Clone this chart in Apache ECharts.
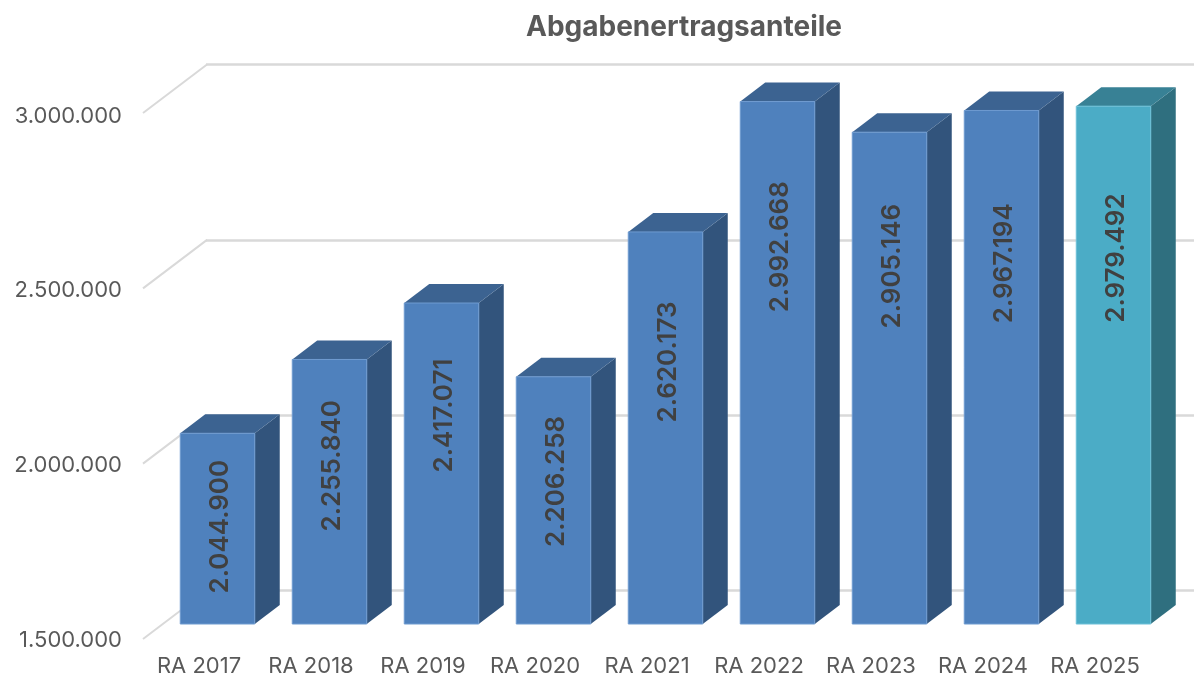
<!DOCTYPE html>
<html>
<head>
<meta charset="utf-8">
<title>Abgabenertragsanteile</title>
<script src="https://cdn.jsdelivr.net/npm/echarts@6/dist/echarts.min.js"></script>
<style>
html,body{margin:0;padding:0;background:#fff;}
#chart{width:1194px;height:677px;}
</style>
</head>
<body>
<div id="chart"></div>
<script>
var categories = ['RA 2017','RA 2018','RA 2019','RA 2020','RA 2021','RA 2022','RA 2023','RA 2024','RA 2025'];
var values = [2044900,2255840,2417071,2206258,2620173,2992668,2905146,2967194,2979492];
var axisTicks = [1500000,2000000,2500000,3000000];

// die Labels sitzen im Original nicht mittig im Balken, Versatz nach oben in px
var labelShift = [2,26,48,19,66,116,112,104,107];

var axisMin = 1500000, axisMax = 3000000, axisStep = 500000;
var depthX = 25, depthY = 19;      // Balkentiefe
var wallX = 64, wallY = 48.5;      // Tiefe der Seitenwand
var barRatio = 74.5 / 112;
var blue = {front:'#4f81bd', top:'#3c6391', side:'#32547c', edge:'#6f9bd0'};
var teal = {front:'#4bacc6', top:'#388195', side:'#2f6f7f', edge:'#6cc0d8'};
var highlight = 8;

var fontName = 'Inter';

function formatDe(v){
	return String(v).replace(/\B(?=(\d{3})+(?!\d))/g, '.');
}

//3D Balken
function renderBar(params, api){
	var idx = api.value(0);
	var topPt = api.coord([idx, api.value(1)]);
	var basePt = api.coord([idx, axisMin]);
	var w = api.size([1,0])[0] * barRatio;
	var x0 = topPt[0] - w/2, x1 = topPt[0] + w/2;
	var y0 = topPt[1], y1 = basePt[1];
	var c = idx == highlight ? teal : blue;
	return {
		type:'group',
		children:[
			{type:'polygon', shape:{points:[[x1,y0],[x1+depthX,y0-depthY],[x1+depthX,y1-depthY],[x1,y1]]},
				style:{fill:c.side}},
			{type:'polygon', shape:{points:[[x0,y0],[x0+depthX,y0-depthY],[x1+depthX,y0-depthY],[x1,y0]]},
				style:{fill:c.top}},
			{type:'rect', shape:{x:x0,y:y0,width:w,height:y1-y0},
				style:{fill:c.front, stroke:c.edge, lineWidth:1}},
			{type:'text', x:topPt[0]+3, y:(y0+y1)/2-labelShift[idx], rotation:Math.PI/2,
				style:{text:formatDe(api.value(1)), fill:'#404040', font:'600 26px '+fontName, align:'center', verticalAlign:'middle'}}
		]
	};
}

//schraege Linien links
function renderWall(params, api){
	var p = api.coord([0, api.value(0)]);
	var x = params.coordSys.x;
	return {
		type:'line',
		shape:{x1:x, y1:p[1], x2:x+wallX, y2:p[1]-wallY},
		style:{stroke:'#d9d9d9', lineWidth:2}
	};
}

var myChart = echarts.init(document.getElementById('chart'));
var option = {
	animation:false,
	title:{
		text:'Abgabenertragsanteile',
		left:679, top:9, textAlign:'center',
		textStyle:{color:'#595959', fontFamily:fontName, fontSize:28, fontWeight:'bold'}
	},
	grid:[
		{left:206, top:64.5, width:988, height:526},   // Rueckwand
		{left:143, top:113, width:1008, height:526},   // schraege Linien vorne
		{left:161.5, top:99, width:1008, height:525},  // Balken
		{left:143, top:116, width:1008, height:526}    // Achsenbeschriftung
	],
	xAxis:[
		{gridIndex:0, type:'category', data:categories, show:false},
		{gridIndex:1, type:'category', data:categories, show:false},
		{gridIndex:2, type:'category', data:categories, show:false},
		{gridIndex:3, type:'category', data:categories,
			axisLine:{show:false}, axisTick:{show:false},
			axisLabel:{color:'#595959', fontFamily:fontName, fontSize:22, margin:15, interval:0}}
	],
	yAxis:[
		{gridIndex:0, type:'value', min:axisMin, max:axisMax, interval:axisStep,
			axisLine:{show:false}, axisTick:{show:false}, axisLabel:{show:false},
			splitLine:{show:true, lineStyle:{color:'#d9d9d9', width:2.5}}},
		{gridIndex:1, type:'value', min:axisMin, max:axisMax, interval:axisStep, show:false},
		{gridIndex:2, type:'value', min:axisMin, max:axisMax, interval:axisStep, show:false},
		{gridIndex:3, type:'value', min:axisMin, max:axisMax, interval:axisStep,
			axisLine:{show:false}, axisTick:{show:false}, splitLine:{show:false},
			axisLabel:{color:'#595959', fontFamily:fontName, fontSize:22, margin:21, formatter:formatDe}}
	],
	series:[
		{type:'custom', xAxisIndex:1, yAxisIndex:1, z:1, silent:true,
			data:axisTicks, encode:{y:0}, renderItem:renderWall},
		{type:'custom', xAxisIndex:2, yAxisIndex:2, z:3, silent:true,
			data:values.map(function(v,i){return [i,v];}), encode:{x:0,y:1}, renderItem:renderBar}
	]
};
myChart.setOption(option);
</script>
</body>
</html>
